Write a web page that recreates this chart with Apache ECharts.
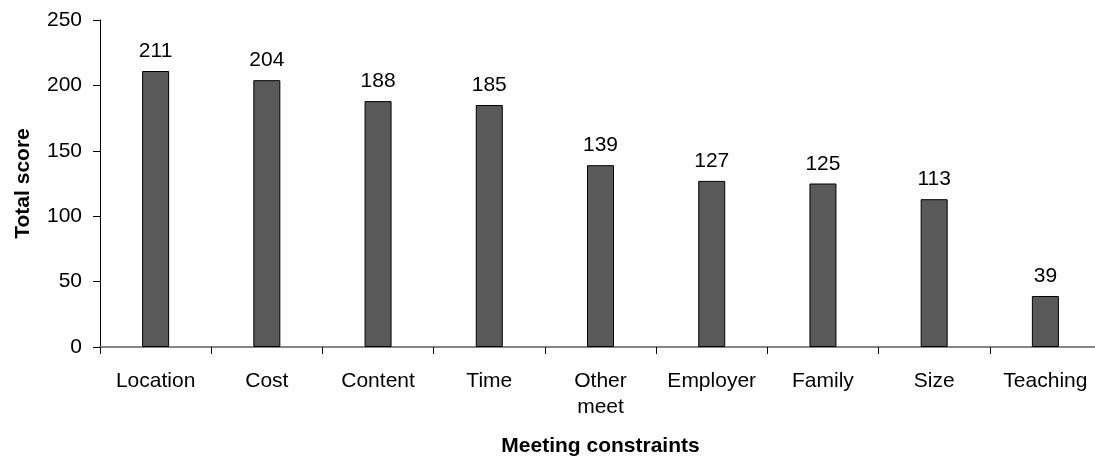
<!DOCTYPE html>
<html>
<head>
<meta charset="utf-8">
<script src="https://cdn.jsdelivr.net/npm/echarts@6/dist/echarts.min.js"></script>
<style>
  html, body { margin: 0; padding: 0; background: #ffffff; }
  #chart { width: 1095px; height: 458px; }
</style>
</head>
<body>
<div id="chart"></div>
<script>
// Meeting constraints ranked by total score
const categories = ['Location', 'Cost', 'Content', 'Time', 'Other\nmeet', 'Employer', 'Family', 'Size', 'Teaching'];
const totalScores = [211, 204, 188, 185, 139, 127, 125, 113, 39];
const yTicks = { min: 0, max: 250, step: 50 };

const FONT = '"Liberation Sans", Arial, sans-serif';

const chart = echarts.init(document.getElementById('chart'), null, { renderer: 'canvas' });

chart.setOption({
  animation: false,
  backgroundColor: '#ffffff',
  grid: { left: 100, right: -6, top: 20, bottom: 111, containLabel: false, outerBoundsMode: 'none' },
  xAxis: {
    type: 'category',
    data: categories,
    name: 'Meeting constraints',
    nameLocation: 'middle',
    nameGap: 89,
    nameTextStyle: { fontFamily: FONT, fontSize: 21, fontWeight: 'bold', color: '#000' },
    axisLine: { show: true, lineStyle: { color: '#868686', width: 2 } },
    axisTick: { show: true, alignWithLabel: false, length: 7, lineStyle: { color: '#000', width: 1 } },
    axisLabel: {
      interval: 0,
      margin: 21,
      fontFamily: FONT,
      fontSize: 21,
      lineHeight: 26,
      color: '#000'
    },
    splitLine: { show: false }
  },
  yAxis: {
    type: 'value',
    min: yTicks.min,
    max: yTicks.max,
    interval: yTicks.step,
    name: 'Total score',
    nameLocation: 'middle',
    nameGap: 66,
    nameRotate: 90,
    nameTextStyle: { fontFamily: FONT, fontSize: 21, fontWeight: 'bold', color: '#000' },
    axisLine: { show: true, lineStyle: { color: '#000', width: 1 } },
    axisTick: { show: true, length: 7, lineStyle: { color: '#000', width: 1 } },
    axisLabel: { margin: 18, fontFamily: FONT, fontSize: 21, color: '#000' },
    splitLine: { show: false }
  },
  series: [{
    type: 'bar',
    data: totalScores,
    barWidth: 27,
    itemStyle: { color: '#595959', borderColor: '#000', borderWidth: 1 },
    label: {
      show: true,
      position: 'top',
      distance: 9,
      fontFamily: FONT,
      fontSize: 21,
      color: '#000'
    }
  }]
});
</script>
</body>
</html>
